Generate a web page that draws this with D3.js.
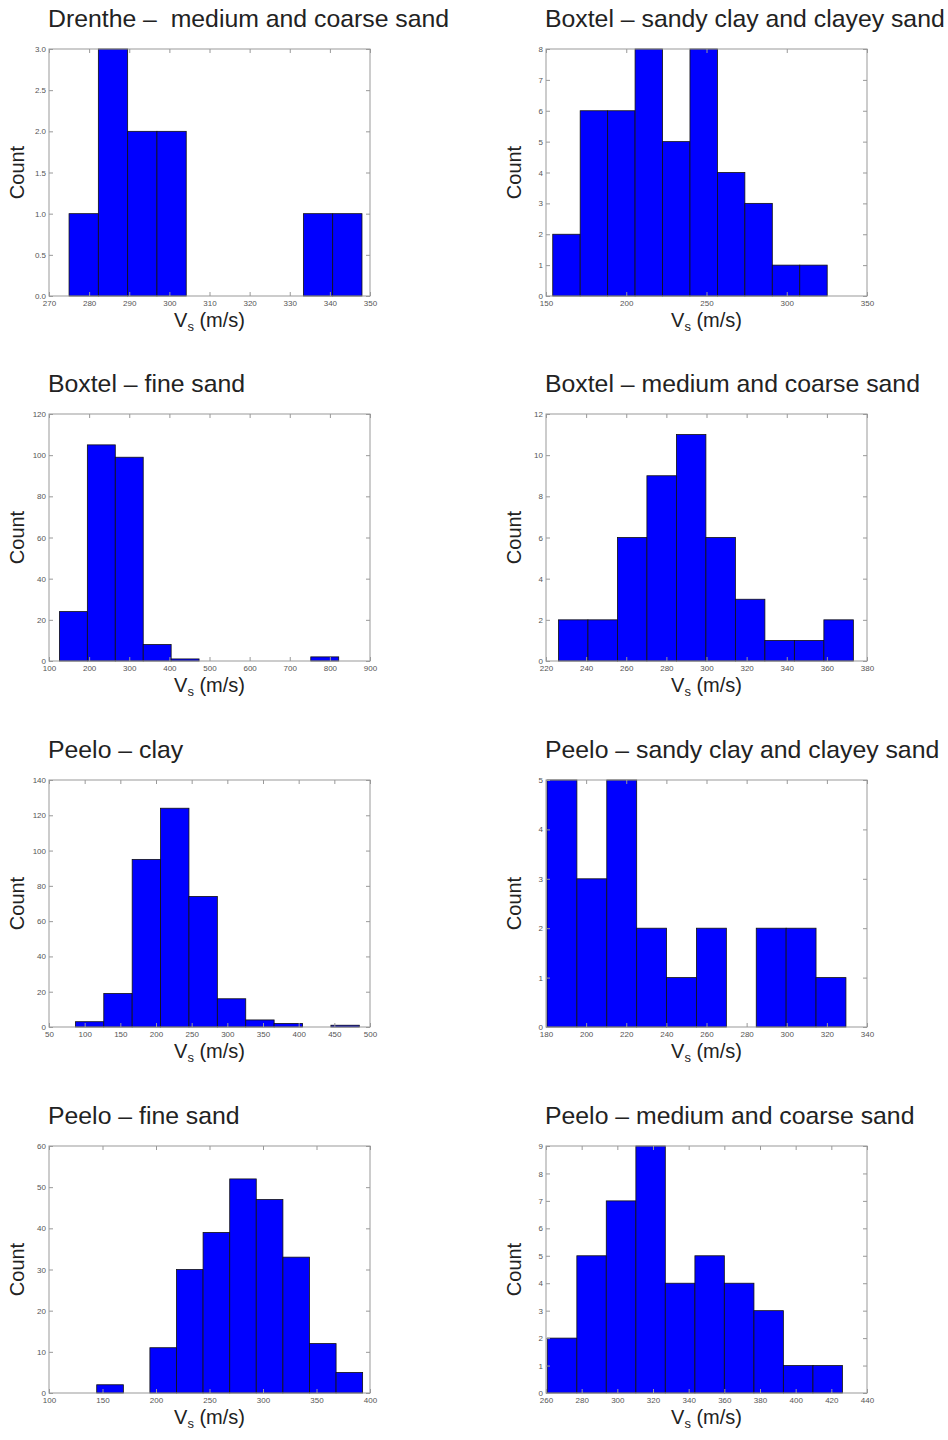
<!DOCTYPE html>
<html>
<meta charset="utf-8">
<title>Vs histograms</title>
<style>
body { margin: 0; background: #fff; }
svg { display: block; font-family: "Liberation Sans", Arial, sans-serif; }
.frame { fill: none; stroke: #999; stroke-width: 1px; }
.bar { fill: #0000ff; stroke: #111; stroke-width: 0.8px; }
.tick line { stroke: #999; }
.tick text { fill: #555; font-size: 8px; }
.domain { display: none; }
text.title { font-size: 24.8px; fill: #222; white-space: pre; }
text.label { font-size: 20px; fill: #222; }
</style>
<script src="https://d3js.org/d3.v7.min.js"></script>
<body>
<script>
// panel titles, row by row
const titles = [
  "Drenthe \u2013  medium and coarse sand",
  "Boxtel \u2013 sandy clay and clayey sand",
  "Boxtel \u2013 fine sand",
  "Boxtel \u2013 medium and coarse sand",
  "Peelo \u2013 clay",
  "Peelo \u2013 sandy clay and clayey sand",
  "Peelo \u2013 fine sand",
  "Peelo \u2013 medium and coarse sand"
];

// histogram bin edges (m/s)
const binEdges = [
  [275, 282.3, 289.6, 296.9, 304.2, 311.5, 318.8, 326.1, 333.4, 340.7, 348],
  [154.2, 171.3, 188.4, 205.5, 222.6, 239.7, 256.8, 273.9, 291.0, 308.1, 325.2],
  [126, 195.6, 265.2, 334.8, 404.4, 474, 543.6, 613.2, 682.8, 752.4, 822],
  [226.2, 240.9, 255.6, 270.3, 285, 299.7, 314.4, 329.1, 343.8, 358.5, 373.2],
  [87, 126.8, 166.6, 206.4, 246.2, 286, 325.8, 365.6, 405.4, 445.2, 485],
  [180.5, 195.4, 210.3, 225.2, 240.1, 255.0, 269.9, 284.8, 299.7, 314.6, 329.5],
  [144.6, 169.5, 194.3, 219.2, 244.0, 268.9, 293.7, 318.6, 343.4, 368.3, 393.1],
  [260.7, 277.3, 293.8, 310.4, 326.9, 343.5, 360.0, 376.6, 393.1, 409.7, 426.2]
];

// counts per bin
const counts = [
  [1, 3, 2, 2, 0, 0, 0, 0, 1, 1],
  [2, 6, 6, 8, 5, 8, 4, 3, 1, 1],
  [24, 105, 99, 8, 1, 0, 0, 0, 0, 2],
  [2, 2, 6, 9, 11, 6, 3, 1, 1, 2],
  [3, 19, 95, 124, 74, 16, 4, 2, 0, 1],
  [5, 3, 5, 2, 1, 2, 0, 2, 2, 1],
  [2, 0, 11, 30, 39, 52, 47, 33, 12, 5],
  [2, 5, 7, 9, 4, 5, 4, 3, 1, 1]
];

// axis tick labels
const xTicks = [
  [270, 280, 290, 300, 310, 320, 330, 340, 350],
  [150, 200, 250, 300, 350],
  [100, 200, 300, 400, 500, 600, 700, 800, 900],
  [220, 240, 260, 280, 300, 320, 340, 360, 380],
  [50, 100, 150, 200, 250, 300, 350, 400, 450, 500],
  [180, 200, 220, 240, 260, 280, 300, 320, 340],
  [100, 150, 200, 250, 300, 350, 400],
  [260, 280, 300, 320, 340, 360, 380, 400, 420, 440]
];
const yTicks = [
  [0, 0.5, 1.0, 1.5, 2.0, 2.5, 3.0],
  [0, 1, 2, 3, 4, 5, 6, 7, 8],
  [0, 20, 40, 60, 80, 100, 120],
  [0, 2, 4, 6, 8, 10, 12],
  [0, 20, 40, 60, 80, 100, 120, 140],
  [0, 1, 2, 3, 4, 5],
  [0, 10, 20, 30, 40, 50, 60],
  [0, 1, 2, 3, 4, 5, 6, 7, 8, 9]
];

const svg = d3.select("body").append("svg")
    .attr("width", 948)
    .attr("height", 1440);

const colLeft = [49, 546], plotW = 321;
const rowTop = [49, 414, 780, 1146], plotH = 247;

titles.forEach((title, i) => {
  const left = colLeft[i % 2], top = rowTop[Math.floor(i / 2)];
  const xt = xTicks[i], yt = yTicks[i];

  const x = d3.scaleLinear()
      .domain([xt[0], xt[xt.length - 1]])
      .range([0, plotW]);
  const y = d3.scaleLinear()
      .domain([yt[0], yt[yt.length - 1]])
      .range([plotH, 0]);

  const g = svg.append("g")
      .attr("transform", "translate(" + left + "," + top + ")");

  const bins = counts[i].map((c, k) => ({x0: binEdges[i][k], x1: binEdges[i][k + 1], n: c}));

  g.selectAll("rect.bar")
    .data(bins.filter(d => d.n > 0))
    .enter().append("rect")
      .attr("class", "bar")
      .attr("x", d => x(d.x0))
      .attr("width", d => x(d.x1) - x(d.x0))
      .attr("y", d => y(d.n))
      .attr("height", d => y(0) - y(d.n));

  const yFmt = i === 0 ? d3.format(".1f") : d3.format("d");

  // ticks point inwards on all four sides
  g.append("g")
      .attr("transform", "translate(0," + plotH + ")")
      .call(d3.axisBottom(x).tickValues(xt).tickSizeInner(-4).tickSizeOuter(0).tickPadding(4.5));
  g.append("g")
      .call(d3.axisTop(x).tickValues(xt).tickSizeInner(-4).tickSizeOuter(0).tickFormat(""));
  g.append("g")
      .call(d3.axisLeft(y).tickValues(yt).tickSizeInner(-4).tickSizeOuter(0).tickPadding(3).tickFormat(yFmt));
  g.append("g")
      .attr("transform", "translate(" + plotW + ",0)")
      .call(d3.axisRight(y).tickValues(yt).tickSizeInner(-4).tickSizeOuter(0).tickFormat(""));

  g.append("rect")
      .attr("class", "frame")
      .attr("width", plotW)
      .attr("height", plotH);

  g.append("text")
      .attr("class", "title")
      .attr("x", -1)
      .attr("y", -22)
      .text(title);

  g.append("text")
      .attr("class", "label")
      .attr("transform", "translate(-25," + (plotH / 2) + ") rotate(-90)")
      .attr("text-anchor", "middle")
      .text("Count");

  const xl = g.append("text")
      .attr("class", "label")
      .attr("x", plotW / 2)
      .attr("y", plotH + 31)
      .attr("text-anchor", "middle");
  xl.append("tspan").text("V");
  xl.append("tspan").attr("dy", 4).style("font-size", "13px").text("s");
  xl.append("tspan").attr("dy", -4).text(" (m/s)");
});
</script>
</body>
</html>
